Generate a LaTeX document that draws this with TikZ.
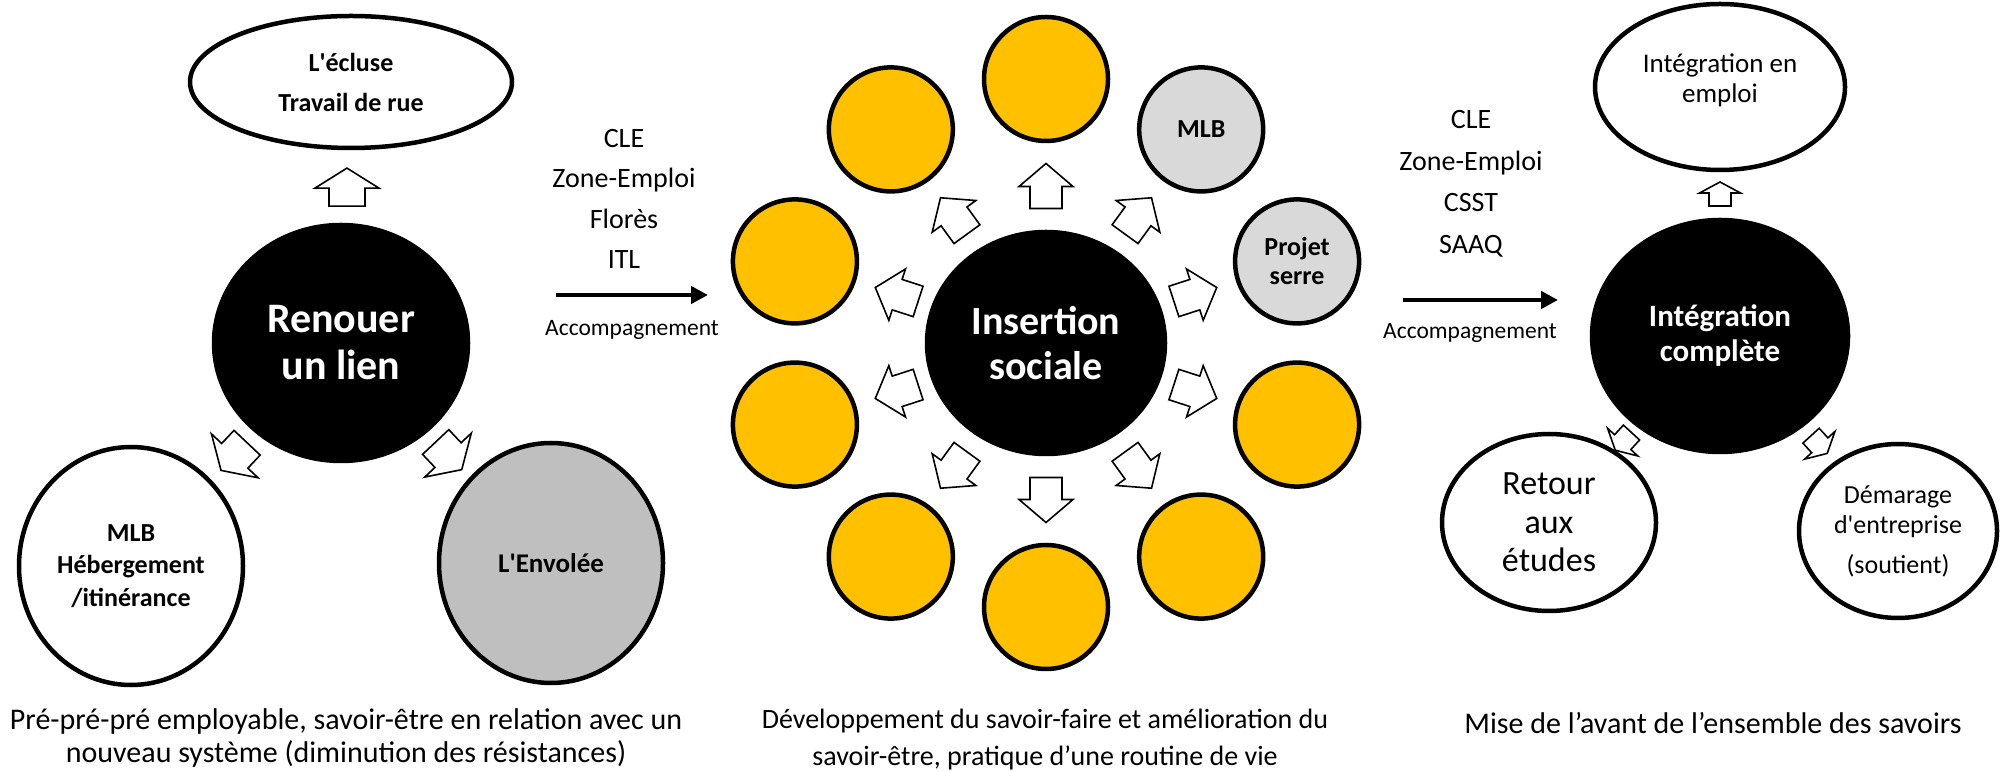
\documentclass[tikz,border=0pt]{standalone}
\usepackage{fontspec}
\setmainfont{Carlito}
\usetikzlibrary{shapes.geometric,calc,arrows.meta}

\definecolor{gold}{HTML}{FFC000}
\definecolor{lgray}{HTML}{D9D9D9}
\definecolor{mgray}{HTML}{BFBFBF}

\newcommand{\fsz}[2]{\fontsize{#1}{#2}\selectfont}

\tikzset{
	circ/.style={ellipse, draw, line width=4.5pt, inner sep=0pt, align=center},
	hub/.style={circ, fill=black, text=white, font=\bfseries\fsz{40}{45}},
	sat/.style={circ, minimum width=124pt, minimum height=124pt, font=\bfseries\fsz{26}{29}},
	lbl/.style={inner sep=0pt, align=center},
	flow/.style={line width=4.5pt, line cap=butt, -{Triangle[length=17pt,width=17pt]}},
	pics/blockarrow/.style n args={4}{code={
			\draw[line width=1.6pt, fill=white, line join=miter]
			({-#1/2},{-#4}) -- ({#1/2-#2},{-#4}) -- ({#1/2-#2},{-#3}) -- ({#1/2},0)
			-- ({#1/2-#2},{#3}) -- ({#1/2-#2},{#4}) -- ({-#1/2},{#4}) -- cycle;}},
}

\begin{document}
\begin{tikzpicture}[x=1pt,y=1pt,line cap=round,line join=round]
	\useasboundingbox (0,0) rectangle (2001,771);
	
	% renouer un lien
	\node[hub, font=\bfseries\fsz{42}{47}, minimum width=254pt, minimum height=236pt] (ren) at (341,428) {Renouer\\un lien};
	\node[circ, minimum width=322pt, minimum height=132pt, font=\bfseries\fsz{26}{40}] (ecl) at (351,689) {L\textquotesingle écluse\\Travail de rue};
	\node[circ, minimum width=224pt, minimum height=238pt, font=\bfseries\fsz{26}{32.5}] (mlb) at (131,205) {MLB\\Hébergement\\/itinérance};
	\node[circ, fill=mgray, minimum width=224pt, minimum height=240pt, font=\bfseries\fsz{27}{32}] (env) at (551,208) {L\textquotesingle Envolée};
	\path ($(ren)!156pt!(ecl)$) pic[rotate=90] {blockarrow={38}{20}{32}{18}};
	\path ($(ren)!156pt!(mlb)$) pic[rotate=226.7] {blockarrow={38}{20}{32}{18}};
	\path ($(ren)!156pt!(env)$) pic[rotate=313.3] {blockarrow={38}{20}{32}{18}};
	\node[lbl, font=\fsz{30}{33}] (capl) at (346,33) {Pré-pré-pré employable, savoir-être en relation avec un\\nouveau système (diminution des résistances)};
	
	\coordinate (t1) at (556,476);
	\coordinate (h1) at (708,476);
	\draw[flow] (t1) -- (h1);
	\node[lbl, font=\fsz{28}{40.5}] (org1) at (624,572) {CLE\\Zone-Emploi\\Florès\\ITL};
	\node[lbl, font=\fsz{23.5}{28}] (acc1) at (632,441) {Accompagnement};
	
	% insertion sociale
	\node[hub, minimum width=238pt, minimum height=222pt] (ins) at (1046,428) {Insertion\\sociale};
	\foreach \i/\a in {1/90,2/126,3/162,4/198,5/234,6/270,7/306,8/342}
	\node[sat, fill=gold] (s\i) at ($(ins)+(\a:264)$) {};
	\node[sat, fill=lgray] (s9) at ($(ins)+(18:264)$) {Projet\\serre};
	\node[sat, fill=lgray] (s10) at ($(ins)+(54:264)$) {MLB};
	\foreach \i/\a in {1/90,2/126,3/162,4/198,5/234,6/270,7/306,8/342,9/18,10/54}
	\path ($(ins)!157pt!(s\i)$) pic[rotate=\a] {blockarrow={45}{23}{27}{16}};
	\node[lbl, font=\fsz{28}{37}] (capm) at (1045,31) {Développement du savoir-faire et amélioration du\\savoir-être, pratique d’une routine de vie};
	
	\coordinate (t2) at (1403,471);
	\coordinate (h2) at (1558,471);
	\draw[flow] (t2) -- (h2);
	\node[lbl, font=\fsz{28}{41.5}] (org2) at (1471,587) {CLE\\Zone-Emploi\\CSST\\SAAQ};
	\node[lbl, font=\fsz{23.5}{28}] (acc2) at (1470,438) {Accompagnement};
	
	% integration complete
	\node[hub, font=\bfseries\fsz{31}{35}, minimum width=256pt, minimum height=232pt] (icp) at (1720,435) {Intégration\\complète};
	\node[circ, minimum width=250pt, minimum height=166pt, font=\fsz{27}{30}, text depth=17pt] (emp) at (1720,684) {Intégration en\\emploi};
	\node[circ, minimum width=214pt, minimum height=177pt, font=\fsz{34}{38.5}] (ret) at (1549,248.5) {Retour\\aux\\études};
	\node[circ, minimum width=198pt, minimum height=174pt, font=\fsz{26}{30}] (dem) at (1898,240) {Démarage\\d\textquotesingle entreprise\\[10pt](soutient)};
	\path ($(icp)!142pt!(emp)$) pic[rotate=90] {blockarrow={24}{11}{20.5}{11}};
	\path ($(icp)!143pt!(ret)$) pic[rotate=227.5] {blockarrow={24}{11}{20.5}{11}};
	\path ($(icp)!147pt!(dem)$) pic[rotate=312.4] {blockarrow={24}{11}{20.5}{11}};
	\node[lbl, font=\fsz{30}{32}] (capr) at (1713,48) {Mise de l’avant de l’ensemble des savoirs};
\end{tikzpicture}
\end{document}
